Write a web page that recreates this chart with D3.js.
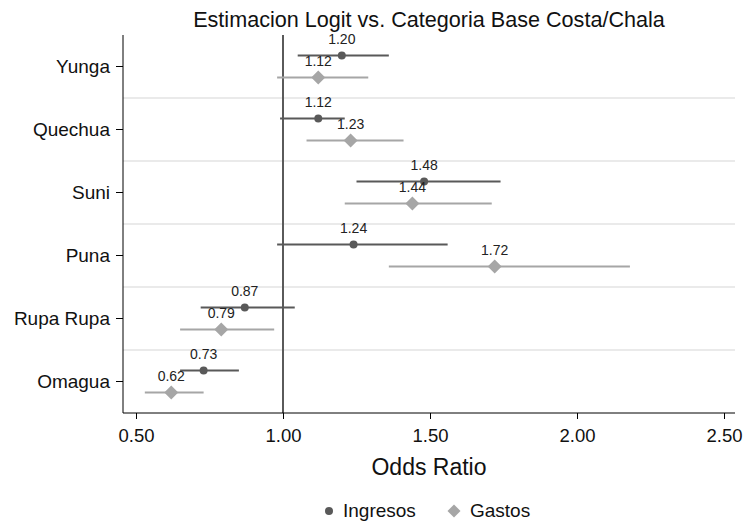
<!DOCTYPE html>
<html>
<head>
<meta charset="utf-8">
<script src="https://cdn.jsdelivr.net/npm/d3@7"></script>
<style>
  body { margin: 0; background: #fff; }
  text { font-family: 'Liberation Sans', Arial, sans-serif; }
</style>
</head>
<body>
<div id="chart"></div>
<script>
const categories = ["Yunga", "Quechua", "Suni", "Puna", "Rupa Rupa", "Omagua"];
const ingresosOR = [1.20, 1.12, 1.48, 1.24, 0.87, 0.73];
const ingresosLo = [1.05, 0.99, 1.25, 0.98, 0.72, 0.65];
const ingresosHi = [1.36, 1.21, 1.74, 1.56, 1.04, 0.85];
const gastosOR = [1.12, 1.23, 1.44, 1.72, 0.79, 0.62];
const gastosLo = [0.98, 1.08, 1.21, 1.36, 0.65, 0.53];
const gastosHi = [1.29, 1.41, 1.71, 2.18, 0.97, 0.73];
const xTicks = [0.5, 1.0, 1.5, 2.0, 2.5];

const W = 745, H = 524;
const plot = { left: 123, right: 735, top: 35, bottom: 413 };
const colIng = '#595959', colGas = '#a6a6a6';

const svg = d3.select('#chart').append('svg')
  .attr('width', W).attr('height', H);

const x = d3.scaleLinear().domain([0.5, 2.5]).range([136, 724]);
const y = d3.scaleBand().domain(categories).range([plot.top, plot.bottom]);

// gridlines between categories
svg.append('g').selectAll('line')
  .data(categories.slice(1))
  .join('line')
  .attr('x1', plot.left).attr('x2', plot.right)
  .attr('y1', d => y(d)).attr('y2', d => y(d))
  .attr('stroke', '#e3e3e3').attr('stroke-width', 1.5);

// reference line at 1
svg.append('line')
  .attr('x1', x(1)).attr('x2', x(1))
  .attr('y1', plot.top).attr('y2', plot.bottom)
  .attr('stroke', '#5a5a5a').attr('stroke-width', 2);

// y axis
const yAxis = svg.append('g')
  .attr('transform', `translate(${plot.left},0)`)
  .call(d3.axisLeft(y).tickSize(7).tickPadding(6));
yAxis.select('.domain').remove();
yAxis.append('line')
  .attr('x1', 0).attr('x2', 0)
  .attr('y1', plot.top).attr('y2', plot.bottom)
  .attr('stroke', '#000');
yAxis.selectAll('text').attr('font-size', 19).attr('fill', '#111')
  .attr('font-family', "'Liberation Sans', Arial, sans-serif");

// x axis
const xAxis = svg.append('g')
  .attr('transform', `translate(0,${plot.bottom})`)
  .call(d3.axisBottom(x).tickValues(xTicks).tickFormat(d3.format('.2f')).tickSize(6).tickPadding(10));
xAxis.select('.domain').remove();
xAxis.append('line')
  .attr('x1', plot.left).attr('x2', plot.right)
  .attr('y1', 0).attr('y2', 0)
  .attr('stroke', '#000');
xAxis.selectAll('text').attr('font-size', 18.5).attr('fill', '#111')
  .attr('font-family', "'Liberation Sans', Arial, sans-serif");

function diamond(cx, cy, r) {
  return `M${cx},${cy - r}L${cx + r},${cy}L${cx},${cy + r}L${cx - r},${cy}Z`;
}

const rows = categories.map((c, i) => ({
  cat: c,
  ing: ingresosOR[i], ingLo: ingresosLo[i], ingHi: ingresosHi[i],
  gas: gastosOR[i], gasLo: gastosLo[i], gasHi: gastosHi[i]
}));

const cy = d => y(d.cat) + y.bandwidth() / 2;
const offIng = -11, offGas = 11;

const g = svg.append('g');

// Ingresos
g.selectAll('.ingci').data(rows).join('line')
  .attr('x1', d => x(d.ingLo)).attr('x2', d => x(d.ingHi))
  .attr('y1', d => cy(d) + offIng).attr('y2', d => cy(d) + offIng)
  .attr('stroke', colIng).attr('stroke-width', 2);
g.selectAll('.ingpt').data(rows).join('circle')
  .attr('cx', d => x(d.ing)).attr('cy', d => cy(d) + offIng)
  .attr('r', 4).attr('fill', colIng);

// Gastos
g.selectAll('.gasci').data(rows).join('line')
  .attr('x1', d => x(d.gasLo)).attr('x2', d => x(d.gasHi))
  .attr('y1', d => cy(d) + offGas).attr('y2', d => cy(d) + offGas)
  .attr('stroke', colGas).attr('stroke-width', 2);
g.selectAll('.gaspt').data(rows).join('path')
  .attr('d', d => diamond(x(d.gas), cy(d) + offGas, 7))
  .attr('fill', colGas);

// value labels
g.selectAll('.inglab').data(rows).join('text')
  .attr('x', d => x(d.ing)).attr('y', d => cy(d) + offIng - 12)
  .attr('text-anchor', 'middle').attr('font-size', 14).attr('fill', '#222')
  .text(d => d.ing.toFixed(2));
g.selectAll('.gaslab').data(rows).join('text')
  .attr('x', d => x(d.gas)).attr('y', d => cy(d) + offGas - 12)
  .attr('text-anchor', 'middle').attr('font-size', 14).attr('fill', '#222')
  .text(d => d.gas.toFixed(2));

// title and axis title
svg.append('text')
  .attr('x', (plot.left + plot.right) / 2).attr('y', 27)
  .attr('text-anchor', 'middle').attr('font-size', 21.6).attr('fill', '#111')
  .text('Estimacion Logit vs. Categoria Base Costa/Chala');
svg.append('text')
  .attr('x', (plot.left + plot.right) / 2).attr('y', 475)
  .attr('text-anchor', 'middle').attr('font-size', 23).attr('fill', '#111')
  .text('Odds Ratio');

// legend
const leg = svg.append('g');
leg.append('circle').attr('cx', 329).attr('cy', 511).attr('r', 4).attr('fill', colIng);
leg.append('text').attr('x', 343).attr('y', 517).attr('font-size', 19).attr('fill', '#111').text('Ingresos');
leg.append('path').attr('d', diamond(454, 511, 6.5)).attr('fill', colGas);
leg.append('text').attr('x', 470).attr('y', 517).attr('font-size', 19).attr('fill', '#111').text('Gastos');
</script>
</body>
</html>
